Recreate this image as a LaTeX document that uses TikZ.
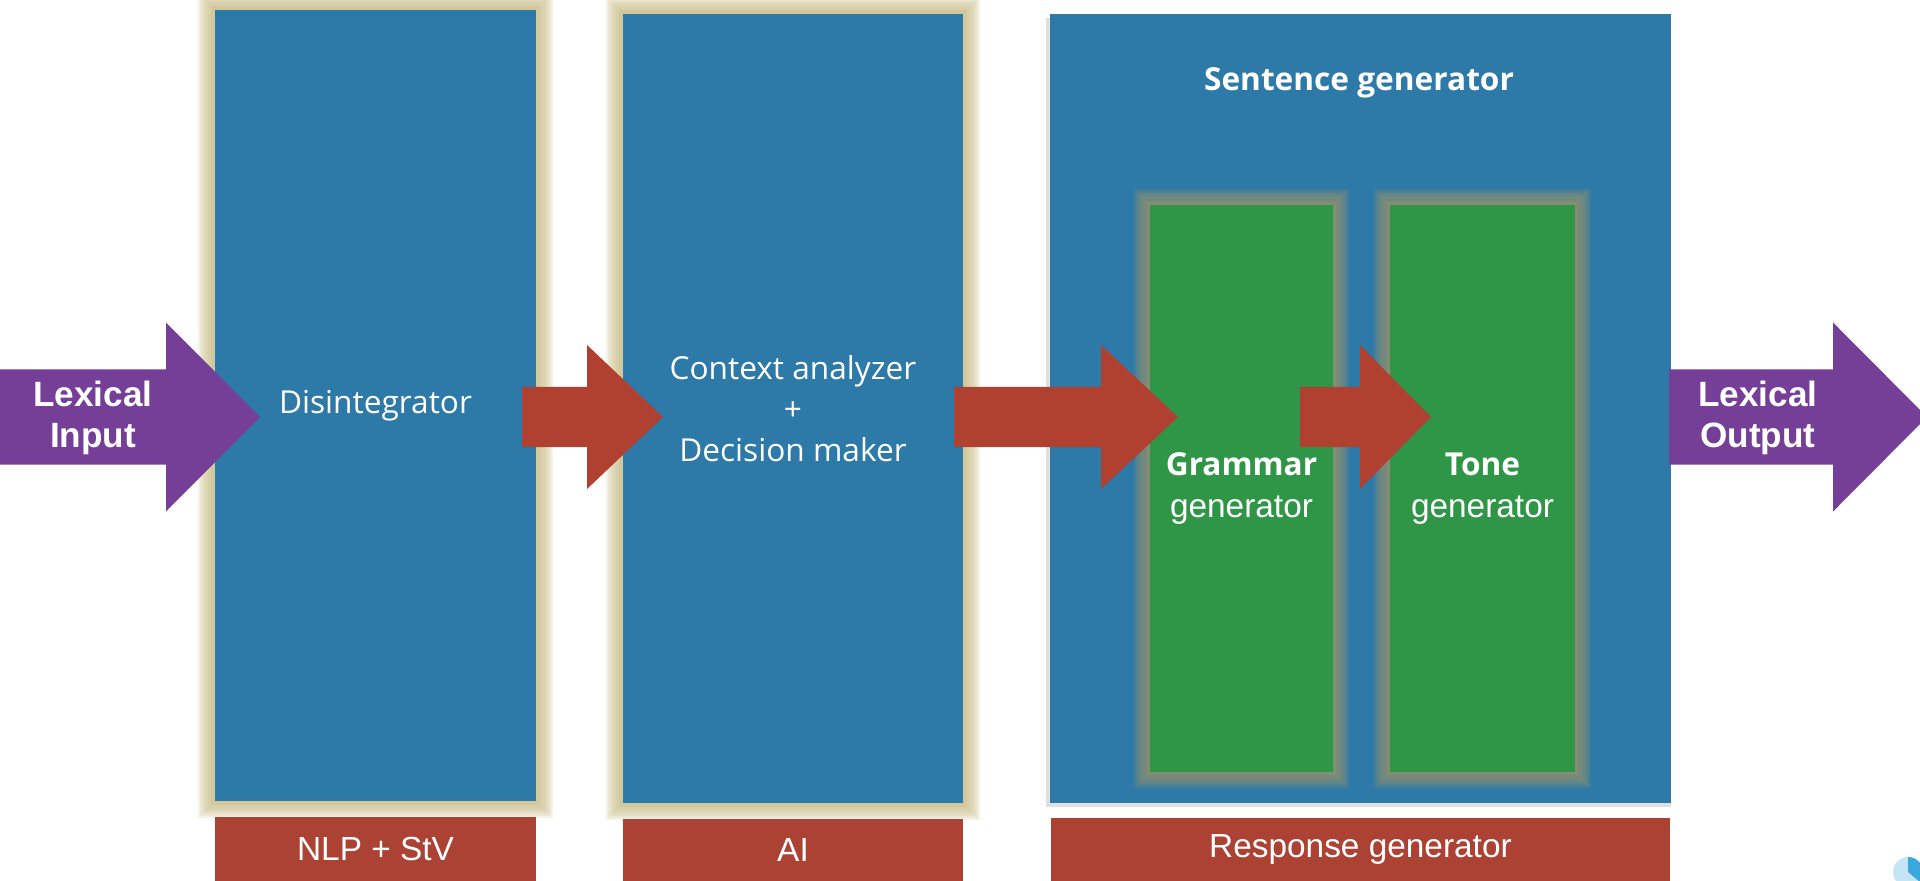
\documentclass[tikz,border=0pt]{standalone}
\usepackage{fontspec}
\setmainfont{Liberation Sans}
\newfontfamily\osans{Open Sans}
\usetikzlibrary{calc,backgrounds}

\definecolor{boxblue}{HTML}{2D79A8}
\definecolor{gengreen}{HTML}{2E9646}
\definecolor{arrred}{HTML}{B04030}
\definecolor{lblred}{HTML}{AC4233}
\definecolor{lexpurple}{HTML}{753F97}
\definecolor{beige}{HTML}{CDC391}
\definecolor{greenglow}{HTML}{8E9170}
\definecolor{pieblue}{HTML}{3AA8E0}

\tikzset{
  blok/.style={fill=boxblue, inner sep=0pt, text=white, align=center,
    font=\osans\fontsize{9}{11.7}\selectfont},
  zelen/.style={inner sep=0pt, text=white, align=center,
    font=\fontsize{9.5}{12}\selectfont},
  metka/.style={fill=lblred, inner sep=0pt, text=white,
    font=\fontsize{9.5}{11}\selectfont},
  lex/.style={text=white, align=center, font=\bfseries\fontsize{10}{11.7}\selectfont},
}

% блочная стрелка: откуда, куда, полуширина ствола, полуширина головки, длина головки, цвет
\newcommand{\strelka}[6]{%
  \fill[#6] ($(#1)+(0,#3)$) -- ($(#2)+(-#5,#3)$) -- ($(#2)+(-#5,#4)$) -- (#2)
    -- ($(#2)+(-#5,-#4)$) -- ($(#2)+(-#5,-#3)$) -- ($(#1)+(0,-#3)$) -- cycle;}

% ореол вокруг узла
\newcommand{\oreol}[2]{%
  \foreach \d in {0.16,0.14,...,0.04}
    \fill[#2, opacity=0.22] ($(#1.south west)+(-\d,-\d)$) rectangle ($(#1.north east)+(\d,\d)$);
  \fill[#2, opacity=0.6] ($(#1.south west)+(-0.03,-0.03)$) rectangle ($(#1.north east)+(0.03,0.03)$);}

\begin{document}
\begin{tikzpicture}[>=stealth]
  \useasboundingbox (0,0) rectangle (19.2,8.8);

  % Блоки
  \node[blok, minimum width=3.21cm, minimum height=7.91cm] (dis) at (3.755,4.745) {Disintegrator};
  \node[blok, minimum width=3.40cm, minimum height=7.89cm] (ctx) at (7.93,4.715)
    {Context analyzer\\+\\Decision maker};
  \node[blok, fill=none, minimum width=6.19cm, minimum height=7.87cm] (sg) at (13.605,4.715) {};
  \node[blok, fill=none, font=\osans\bfseries\fontsize{9}{11}\selectfont] (sgt) at (13.59,7.97) {Sentence generator};

  % Генераторы
  \node[zelen, minimum width=1.81cm, minimum height=5.65cm] (gram) at (12.415,3.915)
    {{\osans\bfseries\fontsize{9}{12}\selectfont Grammar}\\generator};
  \node[zelen, minimum width=1.83cm, minimum height=5.65cm] (tone) at (14.825,3.915)
    {{\osans\bfseries\fontsize{9}{12}\selectfont Tone}\\generator};

  % Подписи снизу
  \node[metka, minimum width=3.21cm, minimum height=0.64cm] (nlp) at (3.755,0.31) {NLP + StV};
  \node[metka, minimum width=3.40cm, minimum height=0.62cm] (ai) at (7.93,0.30) {AI};
  \node[metka, minimum width=6.19cm, minimum height=0.63cm] (resp) at (13.605,0.305) {Response generator};

  % Ореолы, тень и заливки
  \begin{scope}[on background layer]
    \oreol{dis}{beige}
    \oreol{ctx}{beige}
    \fill[black!12] ($(sg.south west)+(-0.04,-0.04)$) rectangle ($(sg.north east)+(0,-0.04)$);
    \fill[boxblue] (sg.south west) rectangle (sg.north east);
    \oreol{gram}{greenglow}
    \oreol{tone}{greenglow}
    \fill[gengreen] (gram.south west) rectangle (gram.north east);
    \fill[gengreen] (tone.south west) rectangle (tone.north east);
  \end{scope}

  % Стрелки
  \coordinate (in0) at (-0.1,4.63);
  \coordinate (in1) at (2.60,4.63);
  \coordinate (a1s) at (5.22,4.63);
  \coordinate (a1e) at (6.63,4.63);
  \coordinate (a2s) at (9.54,4.63);
  \coordinate (a2e) at (11.78,4.63);
  \coordinate (a3s) at (13.00,4.63);
  \coordinate (a3e) at (14.31,4.63);
  \coordinate (out0) at (16.69,4.63);
  \coordinate (out1) at (19.27,4.63);
  \strelka{in0}{in1}{0.475}{0.945}{0.94}{lexpurple}
  \strelka{a1s}{a1e}{0.30}{0.72}{0.76}{arrred}
  \strelka{a2s}{a2e}{0.30}{0.72}{0.77}{arrred}
  \strelka{a3s}{a3e}{0.30}{0.72}{0.71}{arrred}
  \strelka{out0}{out1}{0.475}{0.945}{0.94}{lexpurple}
  \node[lex] (inp) at (0.93,4.625) {Lexical\\Input};
  \node[lex] (outp) at (17.58,4.625) {Lexical\\Output};

  % Индикатор в углу
  \fill[pieblue!30] (19.08,0.08) circle (0.15);
  \fill[pieblue] (19.08,0.08) -- ++(90:0.15) arc (90:-40:0.15) -- cycle;
\end{tikzpicture}
\end{document}
